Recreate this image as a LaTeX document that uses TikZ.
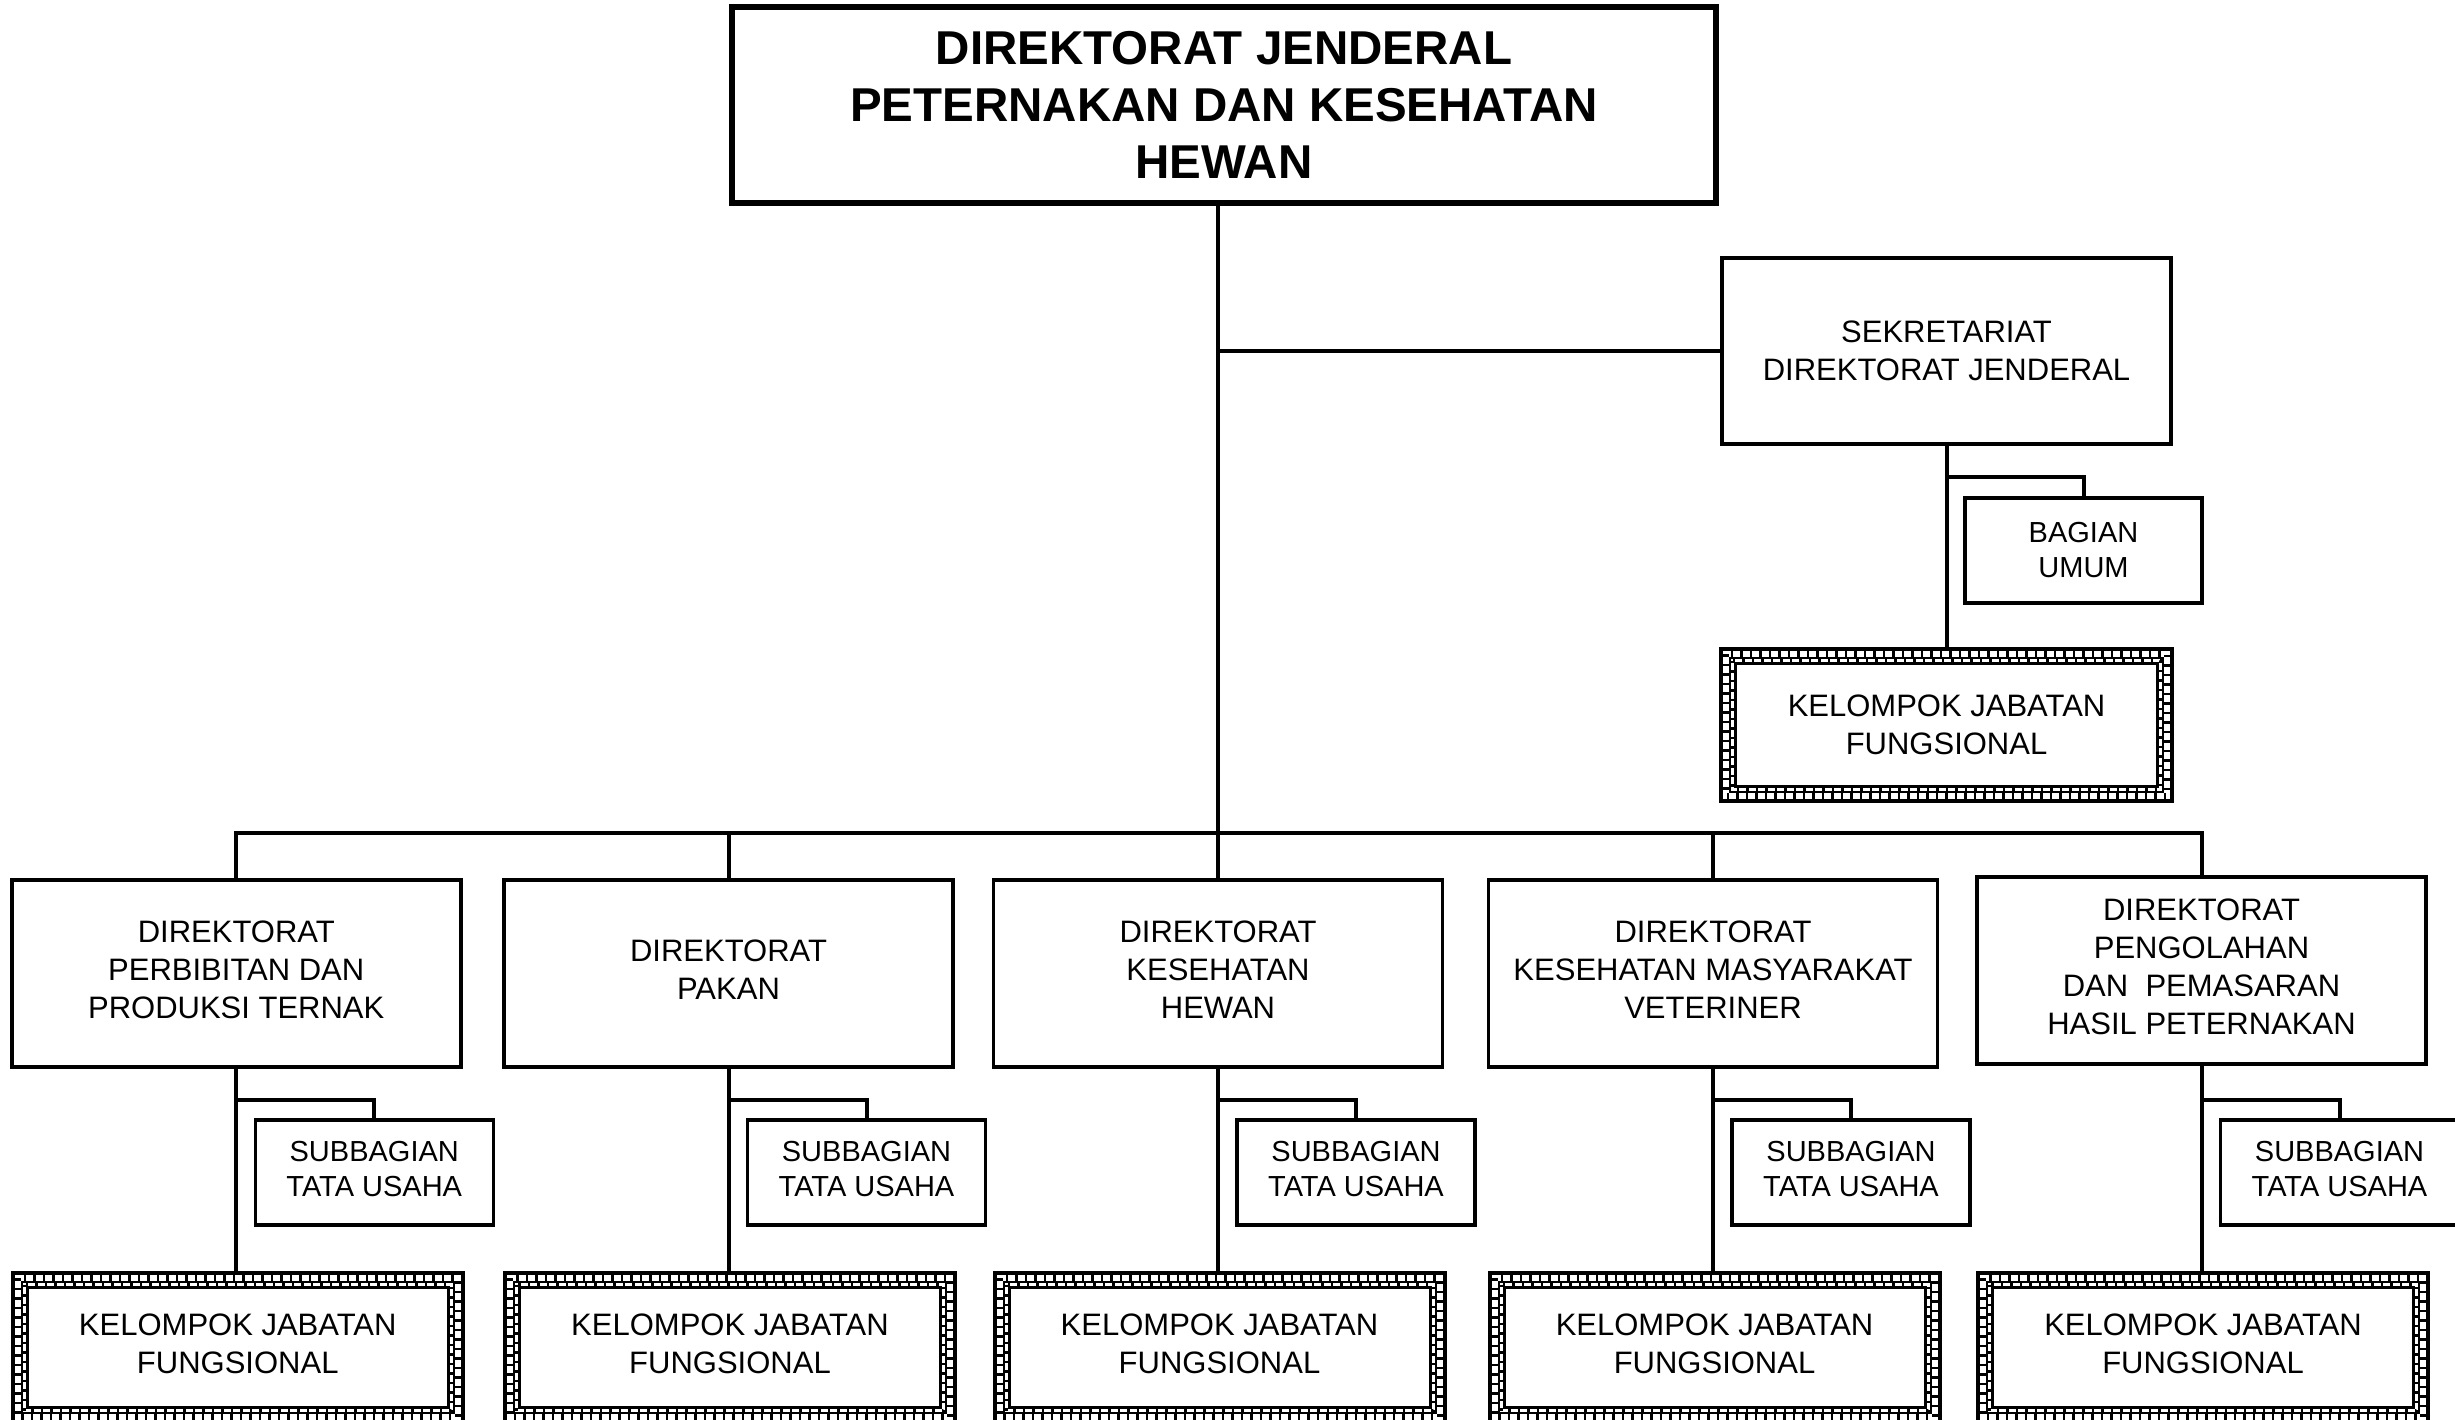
\documentclass[tikz,border=0pt]{standalone}
\usepackage{fontspec}
\setmainfont{Liberation Sans}
\newcommand\kjfdeco[1]{%
  \draw[rungs=6] ([shift={(5,5)}]#1.north west) rectangle ([shift={(-5,-5)}]#1.south east);
  \draw[rail=2] ([shift={(9,9)}]#1.north west) rectangle ([shift={(-9,-9)}]#1.south east);
  \draw[rungs=3] ([shift={(11.5,11.5)}]#1.north west) rectangle ([shift={(-11.5,-11.5)}]#1.south east);
  \draw[rail=3] ([shift={(14.5,14.5)}]#1.north west) rectangle ([shift={(-14.5,-14.5)}]#1.south east);
}
\begin{document}
\begin{tikzpicture}[x=1pt,y=-1pt,
  box/.style={draw,line width=3.5pt,inner sep=0pt,outer sep=0pt,align=center,
    font=\fontsize{31}{38}\selectfont},
  raised/.style={execute at end node={\rule[-8pt]{0pt}{8pt}}},
  smallbox/.style={box,font=\fontsize{29}{35}\selectfont},
  topbox/.style={box,line width=6.5pt,font=\fontsize{47.5}{57}\selectfont\bfseries},
  dirbox/.style={box,raised,minimum width=449pt,minimum height=187pt},
  subbox/.style={smallbox,minimum width=238pt,minimum height=105pt},
  kjfbox/.style={box,line width=4pt,minimum width=450pt},
  conn/.style={line width=4pt},
  rungs/.style={line width=#1pt,dash pattern=on 2.5pt off 7pt},
  rail/.style={line width=#1pt},
]
\useasboundingbox (0,0) rectangle (2455,1420);
\fill[white] (0,0) rectangle (2455,1420);
\clip (0,0) rectangle (2455,1420);

% top level
\node[topbox,minimum width=984pt,minimum height=196pt] (top) at (1224,105)
  {DIREKTORAT JENDERAL\\PETERNAKAN DAN KESEHATAN\\HEWAN};

% sekretariat
\node[box,minimum width=449pt,minimum height=186pt] (sek) at (1946.5,351)
  {SEKRETARIAT\\DIREKTORAT JENDERAL};
\node[subbox,minimum width=237pt] (bag) at (2083.5,550.5) {BAGIAN\\UMUM};
\node[kjfbox,minimum width=451pt,minimum height=152pt] (kjfS) at (1946.5,725)
  {KELOMPOK JABATAN\\FUNGSIONAL};
\kjfdeco{kjfS}

% directorates
\node[dirbox] (dir1) at (236.25,973.5) {DIREKTORAT\\PERBIBITAN DAN\\PRODUKSI TERNAK};
\node[dirbox] (dir2) at (728.5,973.5) {DIREKTORAT\\PAKAN};
\node[dirbox] (dir3) at (1218,973.5) {DIREKTORAT\\KESEHATAN\\HEWAN};
\node[dirbox] (dir4) at (1713,973.5) {DIREKTORAT\\KESEHATAN MASYARAKAT\\VETERINER};
\node[dirbox] (dir5) at (2201.5,970.5) {DIREKTORAT\\PENGOLAHAN\\DAN\ \ PEMASARAN\\HASIL PETERNAKAN};

% subbagian
\node[subbox,raised] (sub1) at (374.25,1172.5) {SUBBAGIAN\\TATA USAHA};
\node[subbox,raised] (sub2) at (866.5,1172.5) {SUBBAGIAN\\TATA USAHA};
\node[subbox,raised] (sub3) at (1356,1172.5) {SUBBAGIAN\\TATA USAHA};
\node[subbox,raised] (sub4) at (1851,1172.5) {SUBBAGIAN\\TATA USAHA};
\node[subbox,raised] (sub5) at (2339.5,1172.5) {SUBBAGIAN\\TATA USAHA};

% kelompok jabatan fungsional
\node[kjfbox,raised,minimum height=149pt] (kjf1) at (237.75,1347.5) {KELOMPOK JABATAN\\FUNGSIONAL};
\node[kjfbox,raised,minimum height=149pt] (kjf2) at (730,1347.5) {KELOMPOK JABATAN\\FUNGSIONAL};
\node[kjfbox,raised,minimum height=149pt] (kjf3) at (1219.5,1347.5) {KELOMPOK JABATAN\\FUNGSIONAL};
\node[kjfbox,raised,minimum height=149pt] (kjf4) at (1714.5,1347.5) {KELOMPOK JABATAN\\FUNGSIONAL};
\node[kjfbox,raised,minimum height=149pt] (kjf5) at (2203,1347.5) {KELOMPOK JABATAN\\FUNGSIONAL};
\foreach \i in {1,...,5}{\kjfdeco{kjf\i}}

% connectors
\coordinate (bus) at (0,833);
\coordinate (sb) at (0,477);
\coordinate (db) at (0,1100);
\draw[conn] (top.south -| dir3.north) -- (dir3.north);
\draw[conn] (sek.west) -- (sek.west -| dir3.north);
\draw[conn] (dir1.north) |- (dir5.north |- bus) -- (dir5.north);
\foreach \i in {2,4}{\draw[conn] (dir\i.north) -- (dir\i.north |- bus);}
\draw[conn] (sek.south) -- (kjfS.north);
\draw[conn] (sek.south |- sb) -| (bag.north);
\foreach \i in {1,...,5}{
  \draw[conn] (dir\i.south) -- (dir\i.south |- kjf\i.north);
  \draw[conn] (dir\i.south |- db) -| (sub\i.north);
}
\end{tikzpicture}
\end{document}
